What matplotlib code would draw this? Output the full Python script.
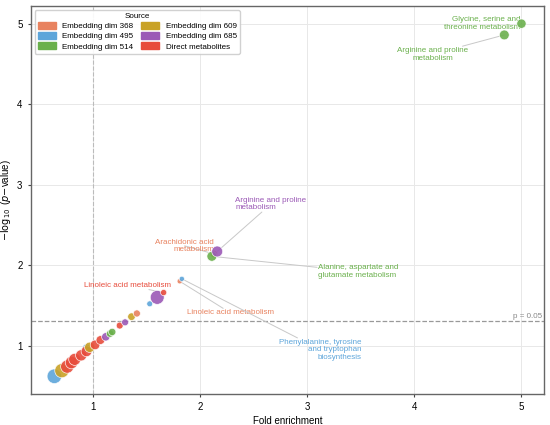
import numpy as np
import matplotlib.pyplot as plt

plt.rcParams['font.family'] = ['Liberation Sans', 'DejaVu Sans']

sources = ['Embedding dim 368', 'Embedding dim 495', 'Embedding dim 514',
           'Embedding dim 609', 'Embedding dim 685', 'Direct metabolites']
colors = ['#E8825F', '#5DA5DA', '#6AB04C', '#C9A227', '#9B59B6', '#E74C3C']

# pathways: fold enrichment, -log10 p, marker size, source index
fold = [0.64, 0.71, 0.76, 0.80, 0.83, 0.89, 0.94, 0.94, 0.97, 1.02, 1.07,
        1.12, 1.16, 1.18, 1.25, 1.30, 1.36, 1.41, 1.53, 1.60, 1.66,
        1.81, 1.83, 2.13, 2.11, 2.16, 4.84, 5.00]
logp = [0.62, 0.69, 0.74, 0.79, 0.83, 0.88, 0.97, 0.93, 0.98, 1.01, 1.07,
        1.11, 1.15, 1.17, 1.25, 1.29, 1.36, 1.40, 1.52, 1.60, 1.66,
        1.80, 1.83, 2.14, 2.11, 2.17, 4.86, 5.00]
size = [110, 105, 90, 80, 75, 65, 35, 60, 55, 48, 40,
        36, 28, 28, 25, 25, 30, 26, 18, 100, 20,
        14, 14, 30, 50, 62, 50, 45]
src = [1, 3, 5, 5, 5, 5, 1, 5, 3, 5, 5,
       4, 2, 2, 5, 4, 3, 0, 1, 4, 5,
       0, 1, 0, 2, 4, 2, 2]

# labels: text, point index, text position, alignment
labels = [
    ('Glycine, serine and\nthreonine metabolism', 27, (4.99, 5.00), 'right'),
    ('Arginine and proline\nmetabolism', 26, (4.17, 4.62), 'center'),
    ('Arginine and proline\nmetabolism', 25, (2.33, 2.76), 'left'),
    ('Arachidonic acid\nmetabolism', 23, (2.13, 2.24), 'right'),
    ('Alanine, aspartate and\nglutamate metabolism', 24, (3.10, 1.92), 'left'),
    ('Linoleic acid metabolism', 20, (1.32, 1.75), 'center'),
    ('Linoleic acid metabolism', 21, (2.28, 1.41), 'center'),
    ('Phenylalanine, tyrosine\nand tryptophan\nbiosynthesis', 22, (3.51, 0.95), 'right'),
]

fig = plt.figure(figsize=(5.5, 4.25), dpi=100)
ax = fig.add_axes([0.056, 0.073, 0.933, 0.913])

ax.grid(True, color='#e8e8e8', linewidth=0.7)
ax.set_axisbelow(True)
ax.axvline(1, color='#bbbbbb', linestyle='--', linewidth=0.8, zorder=1)
ax.axhline(-np.log10(0.05), color='#999999', linestyle='--', linewidth=0.9, zorder=1)
ax.text(5.19, -np.log10(0.05) + 0.02, 'p = 0.05', ha='right', va='bottom',
        fontsize=5.8, color='#888888')

for txt, i, pos, ha in labels:
    c = colors[src[i]]
    ax.annotate(txt, xy=(fold[i], logp[i]), xytext=pos, ha=ha, va='center',
                fontsize=5.8, color=c, linespacing=1.1,
                bbox=dict(boxstyle='square,pad=0.1', fc='none', ec='none'),
                arrowprops=dict(arrowstyle='-', color='#c8c8c8', lw=0.7,
                                shrinkA=0, shrinkB=0), zorder=2)

ax.scatter(fold, logp, s=size, c=[colors[k] for k in src],
           edgecolors='white', linewidths=0.5, alpha=0.9, zorder=3)

ax.set_xlim(0.42, 5.21)
ax.set_ylim(0.40, 5.22)
ax.set_xticks([1, 2, 3, 4, 5])
ax.set_yticks([1, 2, 3, 4, 5])
ax.tick_params(labelsize=7, length=2.5, width=0.8, color='#444444')
for sp in ax.spines.values():
    sp.set_color('#666666')
    sp.set_linewidth(1.0)
ax.set_xlabel('Fold enrichment', fontsize=7, labelpad=3)
ax.set_ylabel(r'$-\log_{10}$ ($p$$-$value)', fontsize=7, labelpad=3)

handles = [plt.Rectangle((0, 0), 1, 1, color=c) for c in colors]
ax.legend(handles, sources, title='Source',
          ncol=2, loc='upper left', fontsize=5.8, title_fontsize=5.8,
          handlelength=2.2, handleheight=0.9, columnspacing=1.0,
          labelspacing=0.25, borderpad=0.4, framealpha=0.9,
          edgecolor='#cccccc')

fig.savefig('out.png', dpi=100)
